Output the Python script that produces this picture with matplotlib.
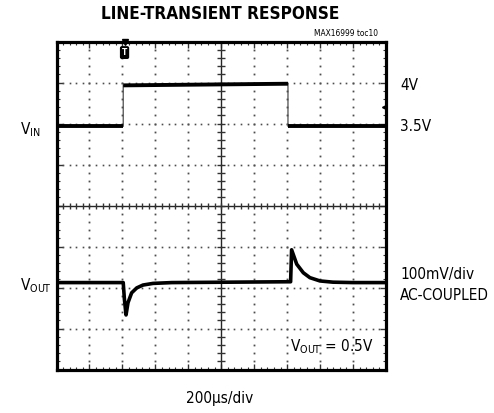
import numpy as np
import matplotlib
matplotlib.use("Agg")
import matplotlib.pyplot as plt
from matplotlib import font_manager

cond = [f.name for f in font_manager.fontManager.ttflist
        if f.stretch in ('condensed', 'semi-condensed', 'narrow', 'extra-condensed')]
if 'DejaVu Sans' in cond:
    FAM = 'DejaVu Sans'
    STRETCH = 'condensed'
    MT = 'DejaVu Sans:stretch=condensed'
else:
    FAM = 'Liberation Sans'
    STRETCH = 'normal'
    MT = 'Liberation Sans'

plt.rcParams['font.family'] = [FAM, 'DejaVu Sans']
plt.rcParams['font.stretch'] = STRETCH
plt.rcParams['mathtext.fontset'] = 'custom'
plt.rcParams['mathtext.rm'] = MT
plt.rcParams['mathtext.it'] = MT

# scope traces (time in us, 200us/div)
vin_t = [0, 405, 405, 1405, 1405, 2000]
vin_v = [3.50, 3.50, 4.00, 4.02, 3.50, 3.50]

vout_t = [0, 405, 412, 422, 434, 456, 487, 525, 586, 700,
          1405, 1421, 1427, 1458, 1498, 1538, 1599, 1678, 1800, 2000]
vout_mv = [0, 0, -40, -79, -49, -25, -13, -6, -2, 0,
           2, 2, 80, 45, 24, 12, 4, 1, 0, 0]

trig_t = 405        # trigger position
trig_level = 3.74   # trigger level on VIN

W, H = 494, 413
fig = plt.figure(figsize=(W / 100, H / 100), dpi=100)

def fx(px):
    return px / W

def fy(py):
    return 1 - py / H

rect = [fx(56.5), fy(369.5), fx(386) - fx(56.5), fy(41.5) - fy(369.5)]

# graticule in divisions
ax = fig.add_axes(rect)
ax.set_xlim(0, 10)
ax.set_ylim(0, 8)
for s in ax.spines.values():
    s.set_linewidth(2.3)
ax.set_xticks(np.arange(0, 11, 1))
ax.set_yticks(np.arange(0, 9, 1))
ax.set_xticks(np.arange(0, 10.01, 0.2), minor=True)
ax.set_yticks(np.arange(0, 8.01, 0.2), minor=True)
ax.tick_params(which='both', direction='in', top=True, right=True,
               labelbottom=False, labelleft=False, color='0.2')
ax.tick_params(which='major', length=4, width=1)
ax.tick_params(which='minor', length=2.5, width=0.8)

dots = np.arange(0, 10.01, 0.2)
for gy in range(1, 8):
    if gy == 4:
        continue
    ax.plot(dots, np.full(len(dots), gy), ls='none', marker='s', ms=1.2,
            color='0.3', mec='none')
dots_v = np.arange(0, 8.01, 0.2)
for gx in range(1, 10):
    if gx == 5:
        continue
    ax.plot(np.full(len(dots_v), gx), dots_v, ls='none', marker='s', ms=1.3,
            color='0.3', mec='none')

# center cross with small ticks
ax.axhline(4, color='0.15', lw=1.0)
ax.axvline(5, color='0.15', lw=1.0)
ax.plot(dots, np.full(len(dots), 4), ls='none', marker='|', ms=5,
        mew=1.0, color='0.2')
ax.plot(np.full(len(dots_v), 5), dots_v, ls='none', marker='_', ms=6,
        mew=1.0, color='0.2')

# VIN channel: 0.5V/div
ax_in = fig.add_axes(rect)
ax_in.set_xlim(0, 2000)
ax_in.set_ylim(3.5 - 5.93 * 0.5, 3.5 + 2.07 * 0.5)
ax_in.axis('off')
ax_in.plot(vin_t, vin_v, color='0.3', lw=0.9)
for i in range(len(vin_t) - 1):
    if vin_t[i] != vin_t[i + 1]:
        ax_in.plot(vin_t[i:i + 2], vin_v[i:i + 2], color='black', lw=2.8,
                   solid_capstyle='butt')
ax_in.plot([1992], [trig_level], marker='<', ms=5, color='black')

# VOUT channel: 100mV/div, AC coupled
ax_out = fig.add_axes(rect)
ax_out.set_xlim(0, 2000)
ax_out.set_ylim(-212, 588)
ax_out.axis('off')
ax_out.plot(vout_t, vout_mv, color='black', lw=2.6, solid_joinstyle='round')

# trigger marker
ax_in.plot([trig_t + 8], [4.53], marker='v', ms=4, color='black', clip_on=False)
ax_in.text(trig_t + 8, 4.40, 'T', color='white', fontsize=6, fontweight='bold',
           ha='center', va='center',
           bbox=dict(boxstyle='round,pad=0.15', fc='black', ec='black'))

# labels
fs = 11
fig.text(fx(220.5), fy(14), 'LINE-TRANSIENT RESPONSE', ha='center',
         va='center', fontsize=12.3, fontweight='heavy')
fig.text(fx(378), fy(33.5), 'MAX16999 toc10', ha='right', va='center',
         fontsize=6)
fig.text(fx(400), fy(85), '4V', ha='left', va='center', fontsize=fs)
fig.text(fx(400), fy(126.5), '3.5V', ha='left', va='center', fontsize=fs)
fig.text(fx(400), fy(274), '100mV/div', ha='left', va='center', fontsize=fs)
fig.text(fx(400), fy(295), 'AC-COUPLED', ha='left', va='center', fontsize=fs)
fig.text(fx(20), fy(130), r'V$_{\mathrm{IN}}$', ha='left', va='center',
         fontsize=fs)
fig.text(fx(20), fy(286), r'V$_{\mathrm{OUT}}$', ha='left', va='center',
         fontsize=fs)
ax.text(7.1, 0.55, r'V$_{\mathrm{OUT}}$ = 0.5V', ha='left', va='center',
        fontsize=fs)
fig.text(fx(220), fy(398), '200\u00b5s/div', ha='center', va='center',
         fontsize=fs)

fig.savefig('out.png', dpi=100)
